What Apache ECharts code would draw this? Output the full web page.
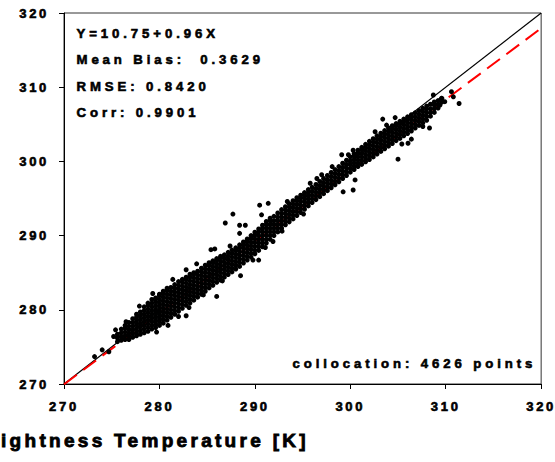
<!DOCTYPE html>
<html><head><meta charset="utf-8">
<script src="https://cdn.jsdelivr.net/npm/echarts@6/dist/echarts.min.js"></script>
<style>
html,body{margin:0;padding:0;background:#fff}
#c{width:555px;height:462px}
#c text{letter-spacing:2.7px;font-weight:bold !important;font-family:'Liberation Sans',Arial,sans-serif !important;stroke:#000 !important;stroke-width:0.6px !important}
#c text[style*="13.2px"]{letter-spacing:3.9px}
#c text[style*="19px"]{letter-spacing:3.3px;stroke-width:0.85px !important}
</style></head><body><div id="c"></div><script>
// axis ticks
const xTicks = [270, 280, 290, 300, 310, 320];
const yTicks = [270, 280, 290, 300, 310, 320];
// annotation texts
const statLines = ['Y=10.75+0.96X', 'Mean Bias:  0.3629', 'RMSE: 0.8420', 'Corr: 0.9901'];
const countText = 'collocation: 4626 points';
const xTitle = 'ightness Temperature [K]';
// regression Y = a + bX
const fitA = 10.75, fitB = 0.96;
// dense band of collocated points, read per x column
const colX = [275.6,276.0,276.4,276.8,277.2,277.6,278.0,278.4,278.8,279.2,279.6,280.0,280.4,280.8,281.2,281.6,282.0,282.4,282.8,283.2,283.6,284.0,284.4,284.8,285.2,285.6,286.0,286.4,286.8,287.2,287.6,288.0,288.4,288.8,289.2,289.6,290.0,290.4,290.8,291.2,291.6,292.0,292.4,292.8,293.2,293.6,294.0,294.4,294.8,295.2,295.6,296.0,296.4,296.8,297.2,297.6,298.0,298.4,298.8,299.2,299.6,300.0,300.4,300.8,301.2,301.6,302.0,302.4,302.8,303.2,303.6,304.0,304.4,304.8,305.2,305.6,306.0,306.4,306.8,307.2,307.6,308.0,308.4,308.8,309.2,309.6];
const colY = [
[275.7,276.2,276.7],
[275.9,276.4,276.9,277.4],
[276.0,276.5,277.0,277.5,277.9],
[276.0,276.45,276.9,277.35,277.8,278.3],
[276.3,276.8,277.3,277.8,278.3,278.8],
[276.5,277.0,277.5,278.0,278.5,279.0,279.4],
[276.7,277.2,277.7,278.2,278.7,279.2,279.7],
[276.9,277.4,277.9,278.4,278.9,279.4,279.9,280.4],
[277.1,277.6,278.1,278.6,279.1,279.6,280.1,280.6,280.9],
[277.4,277.9,278.4,278.9,279.4,279.9,280.4,280.9,281.4],
[277.6,278.1,278.6,279.1,279.6,280.1,280.6,281.1,281.6],
[277.9,278.4,278.9,279.4,279.9,280.4,280.9,281.4,281.9,282.1],
[278.2,278.7,279.2,279.7,280.2,280.7,281.2,281.7,282.2,282.5],
[278.6,279.1,279.6,280.1,280.6,281.1,281.6,282.1,282.6,282.9],
[279.0,279.5,280.0,280.5,281.0,281.5,282.0,282.5,283.0],
[279.4,279.9,280.4,280.9,281.4,281.9,282.4,282.9,283.4],
[279.8,280.3,280.8,281.3,281.8,282.3,282.8,283.3,283.8],
[280.2,280.7,281.2,281.7,282.2,282.7,283.2,283.7,284.1],
[280.6,281.1,281.6,282.1,282.6,283.1,283.6,284.1,284.4],
[280.9,281.4,281.9,282.4,282.9,283.4,283.9,284.4,284.8],
[281.3,281.8,282.3,282.8,283.3,283.8,284.3,284.8,285.0],
[281.7,282.2,282.7,283.2,283.7,284.2,284.7,285.2],
[282.1,282.6,283.1,283.6,284.1,284.6,285.1,285.6],
[282.5,283.0,283.5,284.0,284.5,285.0,285.5,286.0],
[282.95,283.45,283.95,284.45,284.95,285.45,285.95,286.35],
[283.3,283.8,284.3,284.8,285.3,285.8,286.3,286.6],
[283.7,284.2,284.7,285.2,285.7,286.2,286.7,286.9],
[284.0,284.5,285.0,285.5,286.0,286.5,287.0,287.2],
[284.4,284.9,285.4,285.9,286.4,286.9,287.4],
[284.75,285.25,285.75,286.25,286.75,287.25,287.75],
[285.1,285.6,286.1,286.6,287.1,287.6,288.05],
[285.5,286.0,286.5,287.0,287.5,288.0,288.35],
[285.85,286.35,286.85,287.35,287.85,288.35,288.75],
[286.3,286.8,287.3,287.8,288.3,288.8,289.15],
[286.7,287.2,287.7,288.2,288.7,289.2,289.55],
[287.1,287.6,288.1,288.6,289.1,289.6,290.0],
[287.55,288.05,288.55,289.05,289.55,290.05,290.45],
[288.0,288.5,289.0,289.5,290.0,290.5,290.9],
[288.5,289.0,289.5,290.0,290.5,291.0,291.4],
[289.0,289.5,290.0,290.5,291.0,291.5,291.9],
[289.5,290.0,290.5,291.0,291.5,292.0,292.35],
[290.0,290.5,291.0,291.5,292.0,292.6],
[290.5,291.0,291.5,292.0,292.5,293.05],
[291.0,291.5,292.0,292.5,293.0,293.5],
[291.45,291.95,292.45,292.95,293.45,293.9],
[291.85,292.35,292.85,293.35,293.85,294.3],
[292.25,292.75,293.25,293.75,294.25,294.7],
[292.7,293.2,293.7,294.2,294.7,295.1],
[293.1,293.6,294.1,294.6,295.1,295.45],
[293.55,294.05,294.55,295.05,295.5,295.8],
[294.0,294.45,294.9,295.35,295.8,296.2],
[294.45,294.95,295.45,295.95,296.5],
[294.85,295.35,295.85,296.35,296.9],
[295.25,295.75,296.25,296.75,297.3],
[295.65,296.15,296.65,297.15,297.7],
[296.05,296.55,297.05,297.55,298.1],
[296.45,296.95,297.45,297.95,298.5],
[296.85,297.35,297.85,298.35,298.9],
[297.25,297.75,298.25,298.75,299.3],
[297.7,298.2,298.7,299.2,299.75],
[298.1,298.6,299.1,299.6,300.15],
[298.55,299.05,299.55,300.05,300.6],
[298.9,299.35,299.8,300.25,300.7,301.05],
[299.3,299.75,300.2,300.65,301.1,301.5],
[299.6,300.1,300.6,301.1,301.6,301.9],
[299.95,300.45,300.95,301.45,301.95,302.3],
[300.25,300.75,301.25,301.75,302.25,302.7],
[300.6,301.1,301.6,302.1,302.6,303.05],
[301.0,301.5,302.0,302.5,303.0,303.45],
[301.35,301.85,302.35,302.85,303.35,303.8],
[301.7,302.2,302.7,303.2,303.7,304.15],
[302.05,302.55,303.05,303.55,304.05,304.5],
[302.4,302.9,303.4,303.9,304.4,304.8],
[302.8,303.3,303.8,304.3,304.8,305.1],
[303.1,303.6,304.1,304.6,305.05,305.4],
[303.45,303.95,304.45,304.95,305.4,305.7],
[303.75,304.25,304.75,305.25,305.7,306.0],
[304.1,304.6,305.1,305.6,306.0,306.3],
[304.5,305.0,305.5,306.0,306.55],
[304.85,305.35,305.85,306.35,306.85],
[305.2,305.7,306.2,306.7,307.15],
[305.55,306.05,306.55,307.05,307.45],
[306.1,306.6,307.1,307.7],
[306.6,307.1,307.6,308.0],
[307.2,307.7,308.2],
[308.0,308.5]
];
// scattered points outside the band
const outX = [273.2,274.0,274.7,275.2,275.4,276.5,279.7,282.0,282.8,282.8,284.6,286.0,285.4,285.8,286.9,287.7,288.4,289.0,288.4,288.5,289.8,290.4,290.7,291.4,290.5,291.9,292.85,295.8,296.5,297.0,299.1,299.8,299.25,300.3,300.5,300.3,303.4,303.8,305.0,305.4,306.05,306.4,307.6,308.3,308.7,309.55,309.9,310.6,310.8,311.4,309.4,277.9,279.3,281.4,283.9,287.4,293.4,298.1,302.6,304.7,280.9,283.1,286.6,291.1,295.1];
const outY = [273.7,274.6,274.35,276.4,277.3,278.4,277.0,279.1,279.2,285.4,282.0,281.8,288.1,288.2,291.7,292.9,291.4,291.4,290.3,284.6,286.7,286.7,292.8,294.35,294.1,289.2,290.6,297.05,297.7,298.2,300.9,300.9,295.9,301.5,297.5,296.15,305.7,304.9,300.3,302.35,302.45,303.0,304.7,304.5,308.95,308.5,308.05,309.4,308.7,307.8,307.6,280.5,282.2,284.1,286.2,288.6,294.6,299.3,304.0,305.9,277.9,280.3,283.9,288.4,292.9];

const pts = [];
colX.forEach((x, i) => colY[i].forEach(y => pts.push([x, y])));
outX.forEach((x, i) => pts.push([x, outY[i]]));

const x0 = xTicks[0], x1 = xTicks[xTicks.length - 1];
const chart = echarts.init(document.getElementById('c'), null, {renderer: 'svg', width: 555, height: 462});
const axisCommon = {
  type: 'value', interval: 10,
  axisLine: {show: true, lineStyle: {color: '#000', width: 1}},
  axisTick: {show: true, inside: false, length: 5, lineStyle: {color: '#000', width: 1}},
  splitLine: {show: false}
};
chart.setOption({
  animation: false,
  grid: {left: 64, top: 13, right: 13, bottom: 78, show: true, borderColor: '#333', borderWidth: 1},
  xAxis: Object.assign({}, axisCommon, {min: xTicks[0], max: x1,
    axisLabel: {color: '#000', fontSize: 13, fontWeight: 'bold', margin: 16}}),
  yAxis: Object.assign({}, axisCommon, {min: yTicks[0], max: yTicks[yTicks.length - 1],
    axisLabel: {color: '#000', fontSize: 13, fontWeight: 'bold', margin: 15}}),
  series: [
    {type: 'line', silent: true, symbol: 'none', z: 1, data: [[x0, x0], [x1, x1]],
     lineStyle: {color: '#000', width: 1.2}},
    {type: 'line', silent: true, symbol: 'none', z: 2, data: [[x0, fitA + fitB * x0], [x1, fitA + fitB * x1]],
     lineStyle: {color: '#ff0000', width: 2, type: [16, 8]}},
    {type: 'scatter', silent: true, z: 3, symbol: 'circle', symbolSize: 5, data: pts,
     itemStyle: {color: '#000', opacity: 1}}
  ],
  graphic: [
    ...statLines.map((t, i) => ({type: 'text', x: 76.5, y: 33 + i * 26.6, silent: true,
      style: {text: t, font: 'bold 13.2px Arial', fill: '#000', textVerticalAlign: 'middle'}})),
    {type: 'text', x: 536.3, y: 363.3, silent: true,
      style: {text: countText, font: 'bold 13.2px Arial', fill: '#000', textAlign: 'right', textVerticalAlign: 'middle'}},
    {type: 'text', x: 1, y: 440.3, silent: true,
      style: {text: xTitle, font: 'bold 19px Arial', fill: '#000', textAlign: 'left', textVerticalAlign: 'middle'}}
  ]
});
</script></body></html>
